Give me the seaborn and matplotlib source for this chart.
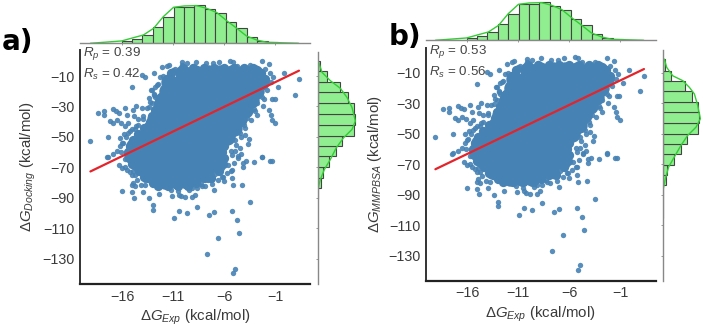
import matplotlib
matplotlib.use('Agg')
import matplotlib.pyplot as plt
import seaborn as sns

# values (heights of the marginals are relative)
x_ticks = [-16, -11, -6, -1]
y_ticks = [-10, -30, -50, -70, -90, -110, -130]

# individual points around the edge of the cloud
edge_exp = [-16.0, -15.05, -14.8, -13.35, -12.4, -13.0, -13.0, -10.45, -9.66, -10.87, -8.65, -7.5, -7.0, -5.2, -4.7, -4.55,
            -6.55, -7.7, -4.9, -5.15, -3.5, -2.3, -1.5, -1.3, -3.1, -3.8, -4.1, -4.1, -4.2, -5.1, -5.2, -6.0,
            -6.55, -7.0, -7.9, -5.25, -5.6, -4.9, -4.6, -4.3, -5.7, -8.6, -9.1, -8.85, -9.1, -9.8, -10.2, -10.5,
            -10.45, -11.1, -13.9, -14.1, -14.95, -15.05, -14.7, -13.75, -14.7, -15.05, -15.5, -16.0, -16.3, -17.4, -16.85, -16.5,
            -15.7, -15.2, -19.1, -17.4, -17.5, -16.2, -15.9, -16.2, -18.4, -17.8, -17.8, -17.2, -16.9, -16.5, -16.1, -16.85,
            -16.6, -16.26, -15.7, -15.5, -14.95, -14.6, -14.05, -14.8, -14.4, -15.45, -15.7, -14.7, -15.2, -15.8, -15.05, -13.1,
            -13.35, -13.75, -14.0, -12.9, -12.1, -11.35, -12.3, -12.45, -10.8, -10.15, -9.66, -8.75, -9.0, -7.8, -7.05, -6.46,
            -5.4, -5.1, -4.75, -3.45, -2.8, -2.25, -1.6, -2.0, -1.5, -1.15, -0.1, 1.35, 1.0, -0.7, -1.3, -1.05,
            -1.55, -1.4, -1.3, -1.0, -2.2, -2.8, -3.55, -3.6, -4.6, -2.3, -3.1, -2.1, -2.5, -11.6, -11.0, -10.1,
            -12.8, -13.4, -13.2, -13.9, -14.6, -15.4, -6.2, -6.9, -7.6, -8.3, -5.3, -4.9, -4.4, -4.0, -3.7, -3.2,
            -11.2, -10.5, -9.4, -8.2, -7.2, -6.1, -4.4, -3.9, -3.1, -2.7, -12.0, -12.6, -12.9, -13.1, -13.7, -14.9,
            -12.8, -12.9, -13.3, -13.6, -13.9, -14.4, -15.0, -15.6, -16.0, -16.1, -15.7, -15.2, -14.5,
            -1.4, -1.8, -2.3, -2.8, -3.0, -3.4, -3.9, -4.3, -4.8, -5.2, -5.0, -5.3, -6.2, -7.2]
edge_dg = [-85.4, -86.2, -89.7, -90.2, -87.6, -94.6, -97.7, -98.5, -99.9, -103.4, -95.7, -101.4, -99.4, -98.8, -104.7, -113.0,
           -116.3, -126.7, -136.3, -139.2, -92.6, -62.9, -66.0, -66.0, -66.5, -65.8, -66.9, -69.5, -81.2, -81.4, -76.8, -79.0,
           -78.5, -84.9, -82.3, -71.7, -68.4, -59.2, -63.6, -61.4, -73.9, -83.4, -83.4, -87.8, -89.3, -89.3, -88.9, -85.6,
           -87.8, -88.4, -85.8, -81.2, -80.0, -81.8, -82.3, -81.8, -75.2, -75.2, -71.7, -70.2, -68.6, -62.9, -61.4, -59.2,
           -64.7, -64.7, -52.4, -50.0, -63.0, -50.4, -53.7, -56.0, -34.0, -32.9, -35.7, -39.5, -41.0, -38.8, -40.6, -31.8,
           -32.9, -34.0, -31.3, -35.7, -32.4, -30.0, -31.3, -36.2, -37.9, -41.0, -42.7, -45.0, -46.0, -48.2, -17.5, -19.2,
           -24.7, -10.9, -9.3, -8.2, -4.3, -2.5, -10.9, -15.3, -5.4, -1.0, -1.4, -0.55, -3.6, -1.4, -1.4, -0.55,
           0.1, -0.55, -3.2, -2.75, -5.4, -0.1, -2.3, -5.4, -8.0, -10.9, -8.2, -12.0, -22.3, -17.0, -25.2, -25.2,
           -32.4, -35.7, -38.8, -41.0, -30.0, -35.7, -51.5, -54.8, -62.5, -63.0, -31.8, -25.2, -20.8, -3.2, -6.0, -2.9,
           -24.0, -30.5, -19.5, -36.5, -43.0, -47.5, -70.5, -74.5, -78.0, -80.5, -59.5, -52.0, -47.5, -42.0, -37.5, -28.5,
           -84.5, -83.0, -85.0, -82.0, -77.5, -76.0, -57.5, -49.0, -27.5, -22.5, -10.0, -16.0, -22.5, -28.0, -78.0, -72.5,
           -17.0, -22.0, -27.0, -31.0, -38.0, -42.0, -45.0, -50.0, -54.0, -60.0, -70.0, -73.0, -78.0,
           -14.0, -19.0, -24.0, -28.0, -33.0, -39.0, -44.0, -50.0, -55.0, -62.0, -67.0, -72.0, -76.0, -81.0]

# crowded points between the edge and the middle
ring_exp = [-10.0, -9.0, -8.0, -7.0, -6.0, -5.0, -4.0, -3.2,
            -11.2, -11.6, -11.7, -11.9, -12.2, -12.5, -12.8, -13.1, -13.3, -13.8, -14.4, -14.9, -15.2, -15.4, -15.3, -15.0, -14.3, -13.8, -13.0,
            -2.4, -2.0, -2.3, -2.7, -3.1, -3.6, -3.8, -4.2, -4.6, -5.0, -5.3, -5.7, -6.0, -6.2, -6.0, -6.1, -6.5, -7.4, -8.7,
            -12.5, -11.5, -10.5, -9.5, -13.5, -12.5, -8.0, -7.3]
ring_dg = [-5, -5, -5, -5, -5, -5, -5, -5,
           -8, -12, -16, -20, -24, -28, -32, -36, -40, -44, -48, -52, -56, -60, -64, -68, -72, -76, -80,
           -8, -12, -16, -20, -24, -28, -32, -36, -40, -44, -48, -52, -56, -60, -64, -68, -72, -76, -80,
           -82, -82, -82, -82, -77, -77, -77, -77]

# the dense middle of the cloud, drawn with a bigger marker
core_exp = [-10.0, -8.8, -7.6, -6.4, -5.2, -4.0, -3.0,
            -11.4, -10.2, -9.0, -7.8, -6.6, -5.4, -4.2, -3.0, -2.4,
            -11.6, -10.4, -9.2, -8.0, -6.8, -5.6, -4.4, -3.6, -2.9,
            -12.0, -10.8, -9.6, -8.4, -7.2, -6.0, -4.8, -3.9, -3.4,
            -12.3, -11.1, -9.9, -8.7, -7.5, -6.3, -5.1, -3.9,
            -12.8, -11.6, -10.4, -9.2, -8.0, -6.8, -5.6, -4.5,
            -13.2, -12.0, -10.8, -9.6, -8.4, -7.2, -6.0, -5.0,
            -13.8, -12.6, -11.4, -10.2, -9.0, -7.8, -6.6, -5.7,
            -14.8, -13.6, -12.4, -11.2, -10.0, -8.8, -7.6, -6.5,
            -15.0, -13.8, -12.6, -11.4, -10.2, -9.0, -7.8, -6.7,
            -14.3, -13.1, -11.9, -10.7, -9.5, -8.3, -7.1,
            -13.4, -12.2, -11.0, -9.8, -8.6, -7.8,
            -11.8, -10.6, -9.6]
core_dg = [-8, -8, -8, -8, -8, -8, -8,
           -14, -14, -14, -14, -14, -14, -14, -14, -14,
           -20, -20, -20, -20, -20, -20, -20, -20, -20,
           -26, -26, -26, -26, -26, -26, -26, -26, -26,
           -32, -32, -32, -32, -32, -32, -32, -32,
           -38, -38, -38, -38, -38, -38, -38, -38,
           -44, -44, -44, -44, -44, -44, -44, -44,
           -50, -50, -50, -50, -50, -50, -50, -50,
           -56, -56, -56, -56, -56, -56, -56, -56,
           -62, -62, -62, -62, -62, -62, -62, -62,
           -68, -68, -68, -68, -68, -68, -68,
           -74, -74, -74, -74, -74, -74,
           -79, -79, -79]

fit_x = [-19.1, 1.35]
fit_docking = [-72.6, -6.5]
fit_mmpbsa = [-73.3, -7.6]

# top marginal, shared by both panels
exp_edges = [-19.1, -18.1, -17.05, -16.03, -15.0, -14.0, -13.0, -11.95, -10.9, -9.9, -8.9, -7.85, -6.85, -5.8, -4.8, -3.75,
             -2.75, -1.7, -0.7, 0.35, 1.35]
exp_counts = [0.5, 1, 2, 8, 14, 25, 50, 78, 108, 108, 114, 102, 92, 64, 46, 20, 6, 3, 1, 0.5]
exp_kde_x = [-19.1, -16.05, -13.9, -12.9, -11.95, -10.95, -9.9, -8.7, -7.7, -6.7, -5.75, -4.75, -3.8, -2.8, -1.8, 1.3]
exp_kde_y = [0, 7, 25, 45, 80, 108, 112, 113, 105, 92, 68, 45, 22, 10, 3, 0]

# right marginals
docking_edges = [0.1, -6.7, -13.7, -20.8, -27.8, -35.0, -42.3, -49.3, -56.0, -62.5, -69.6, -76.8, -83.4, -90.4]
docking_counts = [7, 27, 67, 90, 110, 112, 108, 73, 55, 35, 17, 10, 1]
docking_kde_y = [-1, -7.6, -13.1, -18.1, -24.1, -30.7, -39.5, -45, -50.4, -57, -64.7, -71.3, -77.9, -84.5]
docking_kde_x = [3, 13, 38, 68, 88, 103, 113, 103, 78, 56, 38, 20, 8, 0]

mmpbsa_edges = [-1.1, -8.7, -15.2, -22.2, -29.4, -35.9, -43.1, -50.0, -56.5, -63.0, -70.2, -77.2, -83.7, -90.2, -97.8, -105.4]
mmpbsa_counts = [8, 26, 68, 88, 107, 109, 107, 73, 55, 35, 14, 10, 2, 1, 1]
mmpbsa_kde_y = [-1.1, -6.5, -12, -15.2, -19.6, -23.9, -31.5, -40.2, -45.7, -51.1, -57.6, -65.2, -71.7, -79.4, -85.9]
mmpbsa_kde_x = [5, 12, 30, 60, 80, 95, 105, 113, 100, 75, 55, 35, 18, 8, 2]

sns.set_theme(style="white")
plt.rcParams['font.family'] = ['Liberation Sans', 'DejaVu Sans']
plt.rcParams['mathtext.fontset'] = 'custom'
plt.rcParams['mathtext.rm'] = 'Liberation Sans'
plt.rcParams['mathtext.it'] = 'Liberation Sans:italic'
plt.rcParams['mathtext.bf'] = 'Liberation Sans:bold'

W, H = 703, 326
fig = plt.figure(figsize=(W / 100, H / 100), dpi=100)


def px_axes(left, top, right, bottom):
    ax = fig.add_axes([left / W, 1 - bottom / H, (right - left) / W, (bottom - top) / H])
    ax.patch.set_alpha(0)
    return ax


def draw_panel(box, xlim, ylim, ylabel, fit_y, rp, rs, edges, counts, kde_x, kde_y, top_base, right_left, letter, letter_x, letter_y):
    left, top, right, bottom = box
    ax = px_axes(left, top, right, bottom)
    sns.scatterplot(x=core_exp, y=core_dg, s=140, color='steelblue', linewidth=0, ax=ax)
    sns.scatterplot(x=ring_exp, y=ring_dg, s=45, color='steelblue', linewidth=0, ax=ax)
    sns.scatterplot(x=edge_exp, y=edge_dg, s=15, color='steelblue', alpha=0.9, linewidth=0, ax=ax)
    sns.lineplot(x=fit_x, y=fit_y, color='#e3242b', linewidth=1.6, ax=ax)
    ax.set_xlim(xlim)
    ax.set_ylim(ylim)
    ax.set_xticks(x_ticks)
    ax.set_yticks(y_ticks)
    ax.tick_params(labelsize=10.3, colors='#3a3a3a', length=0, pad=4)
    ax.set_xlabel(r'$\Delta G_{Exp}$ (kcal/mol)', fontsize=10.8, color='#3a3a3a', labelpad=3)
    ax.set_ylabel(ylabel, fontsize=10.8, color='#3a3a3a', labelpad=3)
    sns.despine(ax=ax)
    ax.spines['left'].set_linewidth(1.4)
    ax.spines['bottom'].set_linewidth(1.6)
    ax.spines['left'].set_color('#333333')
    ax.spines['bottom'].set_color('#222222')
    fig.text((left + 3) / W, 1 - (top + 4) / H, rf'$R_p$ = {rp}', fontsize=9.6, color='#444444', va='center')
    fig.text((left + 3) / W, 1 - (top + 24) / H, rf'$R_s$ = {rs}', fontsize=9.6, color='#444444', va='center')
    fig.text(letter_x / W, 1 - letter_y / H, letter, fontsize=20, fontweight='bold', family='DejaVu Sans', color='black')

    # top marginal
    ax_top = px_axes(left, 0, right, top_base)
    centers = [(a + b) / 2 for a, b in zip(exp_edges[:-1], exp_edges[1:])]
    sns.histplot(x=centers, weights=exp_counts, bins=exp_edges, color='#90ee90', edgecolor='#444444', alpha=1, linewidth=0.8, ax=ax_top)
    sns.lineplot(x=exp_kde_x, y=exp_kde_y, color='#32cd32', linewidth=1, ax=ax_top)
    ax_top.set_xlim(xlim)
    ax_top.set_ylim(0, top_base * 3)
    ax_top.set_xticks(x_ticks)
    ax_top.set_xticklabels([])
    ax_top.set_yticks([])
    ax_top.set_xlabel('')
    ax_top.set_ylabel('')
    ax_top.tick_params(axis='x', length=1.5, width=0.6, color='#888888', bottom=True)
    sns.despine(ax=ax_top, left=True)
    ax_top.spines['bottom'].set_color('#888888')
    ax_top.spines['bottom'].set_linewidth(1)

    # right marginal
    ax_right = px_axes(right_left, top + 2, right_left + 40, bottom)
    centers = [(a + b) / 2 for a, b in zip(edges[:-1], edges[1:])]
    sns.histplot(y=centers, weights=counts, bins=sorted(edges), color='#90ee90', edgecolor='#444444', alpha=1, linewidth=0.8, ax=ax_right)
    sns.lineplot(x=kde_x, y=kde_y, sort=False, orient='y', color='#32cd32', linewidth=1, ax=ax_right)
    ax_right.set_xlim(0, 120)
    ax_right.set_ylim(ylim[0], ylim[1] - 2 / 1.525)
    ax_right.set_yticks(y_ticks)
    ax_right.set_yticklabels([])
    ax_right.set_xticks([])
    ax_right.set_xlabel('')
    ax_right.set_ylabel('')
    ax_right.tick_params(axis='y', length=1.5, width=0.6, color='#888888', left=True)
    sns.despine(ax=ax_right, bottom=True)
    ax_right.spines['left'].set_color('#888888')
    ax_right.spines['left'].set_linewidth(1)


draw_panel((80, 50, 310, 284), (-20.12, 2.43), (-146.4, 7.05), r'$\Delta G_{Docking}$ (kcal/mol)', fit_docking,
           0.39, 0.42, docking_edges, docking_counts, docking_kde_x, docking_kde_y, 43.3, 317.7, 'a)', 2, 50)
draw_panel((425.7, 48, 655.7, 280.7), (-20.05, 2.5), (-146.4, 6.2), r'$\Delta G_{MMPBSA}$ (kcal/mol)', fit_mmpbsa,
           0.53, 0.56, mmpbsa_edges, mmpbsa_counts, mmpbsa_kde_x, mmpbsa_kde_y, 40.3, 662.7, 'b)', 389, 45)

fig.savefig('out.png', dpi=100)
